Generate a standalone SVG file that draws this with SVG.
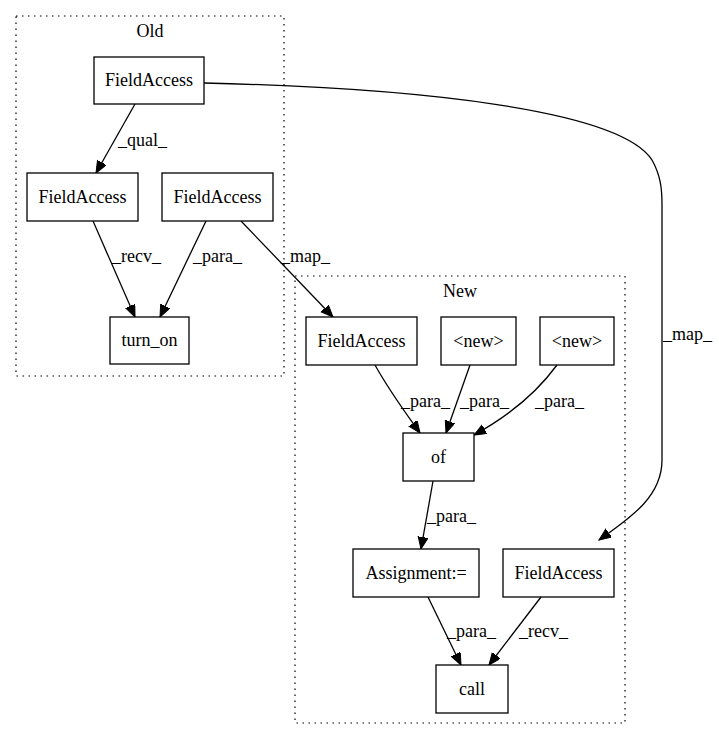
<svg xmlns="http://www.w3.org/2000/svg" width="719" height="740" viewBox="0 0 719 740">
<style>
text{font-family:"Liberation Serif","Times New Roman",serif;font-size:18px;fill:#000}
.n rect{fill:#fff;stroke:#000;stroke-width:1.3}
.n text{text-anchor:middle}
.c{fill:none;stroke:#000;stroke-width:1.2;stroke-dasharray:1.5,4.5}
.e path{fill:none;stroke:#000;stroke-width:1.3}
.cl{text-anchor:middle}
</style>
<defs>
<marker id="a" markerUnits="userSpaceOnUse" markerWidth="14" markerHeight="12" refX="12" refY="5" orient="auto">
<path d="M0,0 L12,5 L0,10 z" fill="#000" stroke="#000" stroke-width="1"/>
</marker>
</defs>
<rect fill="#fff" x="0" y="0" width="719" height="740"/>
<g id="cluster_old">
<rect class="c" x="16" y="16" width="268" height="360"/>
<text class="cl" x="150" y="37">Old</text>
</g>
<g id="cluster_new">
<rect class="c" x="295" y="276" width="330" height="447"/>
<text class="cl" x="460" y="297">New</text>
</g>
<g id="edges" class="e">
<path d="M135,104 L96,173" marker-end="url(#a)"/>
<path d="M93,221 L135,317" marker-end="url(#a)"/>
<path d="M206,221 L160,317" marker-end="url(#a)"/>
<path d="M241,221 L333,317" marker-end="url(#a)"/>
<path d="M204,83 C420,88 620,110 652,160 C661,176 662,190 662,205 L662,460 C662,497 630,518 599,540" marker-end="url(#a)"/>
<path d="M375,365 C390,392 405,412 420,433" marker-end="url(#a)"/>
<path d="M470,365 L446,433" marker-end="url(#a)"/>
<path d="M557,365 C535,395 505,418 474,435" marker-end="url(#a)"/>
<path d="M433,481 L421,549" marker-end="url(#a)"/>
<path d="M428,597 L461,665" marker-end="url(#a)"/>
<path d="M541,597 L489,665" marker-end="url(#a)"/>
<text x="118" y="146">_qual_</text>
<text x="112" y="262">_recv_</text>
<text x="193" y="262">_para_</text>
<text x="281" y="262">_map_</text>
<text x="663" y="340">_map_</text>
<text x="401" y="407">_para_</text>
<text x="460" y="407">_para_</text>
<text x="535" y="407">_para_</text>
<text x="427" y="522">_para_</text>
<text x="447" y="637">_para_</text>
<text x="519" y="637">_recv_</text>
</g>
<g id="n_old_fa_top" class="n"><rect x="94" y="57" width="110" height="47"/><text x="149" y="86">FieldAccess</text></g>
<g id="n_old_fa_left" class="n"><rect x="27" y="173" width="111" height="48"/><text x="82.5" y="203">FieldAccess</text></g>
<g id="n_old_fa_right" class="n"><rect x="162" y="173" width="111" height="48"/><text x="217.5" y="203">FieldAccess</text></g>
<g id="n_turn_on" class="n"><rect x="110" y="317" width="79" height="47"/><text x="149.5" y="346">turn_on</text></g>
<g id="n_new_fa" class="n"><rect x="306" y="317" width="111" height="48"/><text x="361.5" y="347">FieldAccess</text></g>
<g id="n_new1" class="n"><rect x="441" y="317" width="75" height="48"/><text x="478.5" y="347">&lt;new&gt;</text></g>
<g id="n_new2" class="n"><rect x="540" y="317" width="74" height="48"/><text x="577" y="347">&lt;new&gt;</text></g>
<g id="n_of" class="n"><rect x="403" y="433" width="71" height="48"/><text x="438.5" y="463">of</text></g>
<g id="n_assign" class="n"><rect x="353" y="549" width="126" height="48"/><text x="416" y="579">Assignment:=</text></g>
<g id="n_new_fa2" class="n"><rect x="503" y="549" width="111" height="48"/><text x="558.5" y="579">FieldAccess</text></g>
<g id="n_call" class="n"><rect x="436" y="665" width="72" height="48"/><text x="472" y="695">call</text></g>
</svg>
